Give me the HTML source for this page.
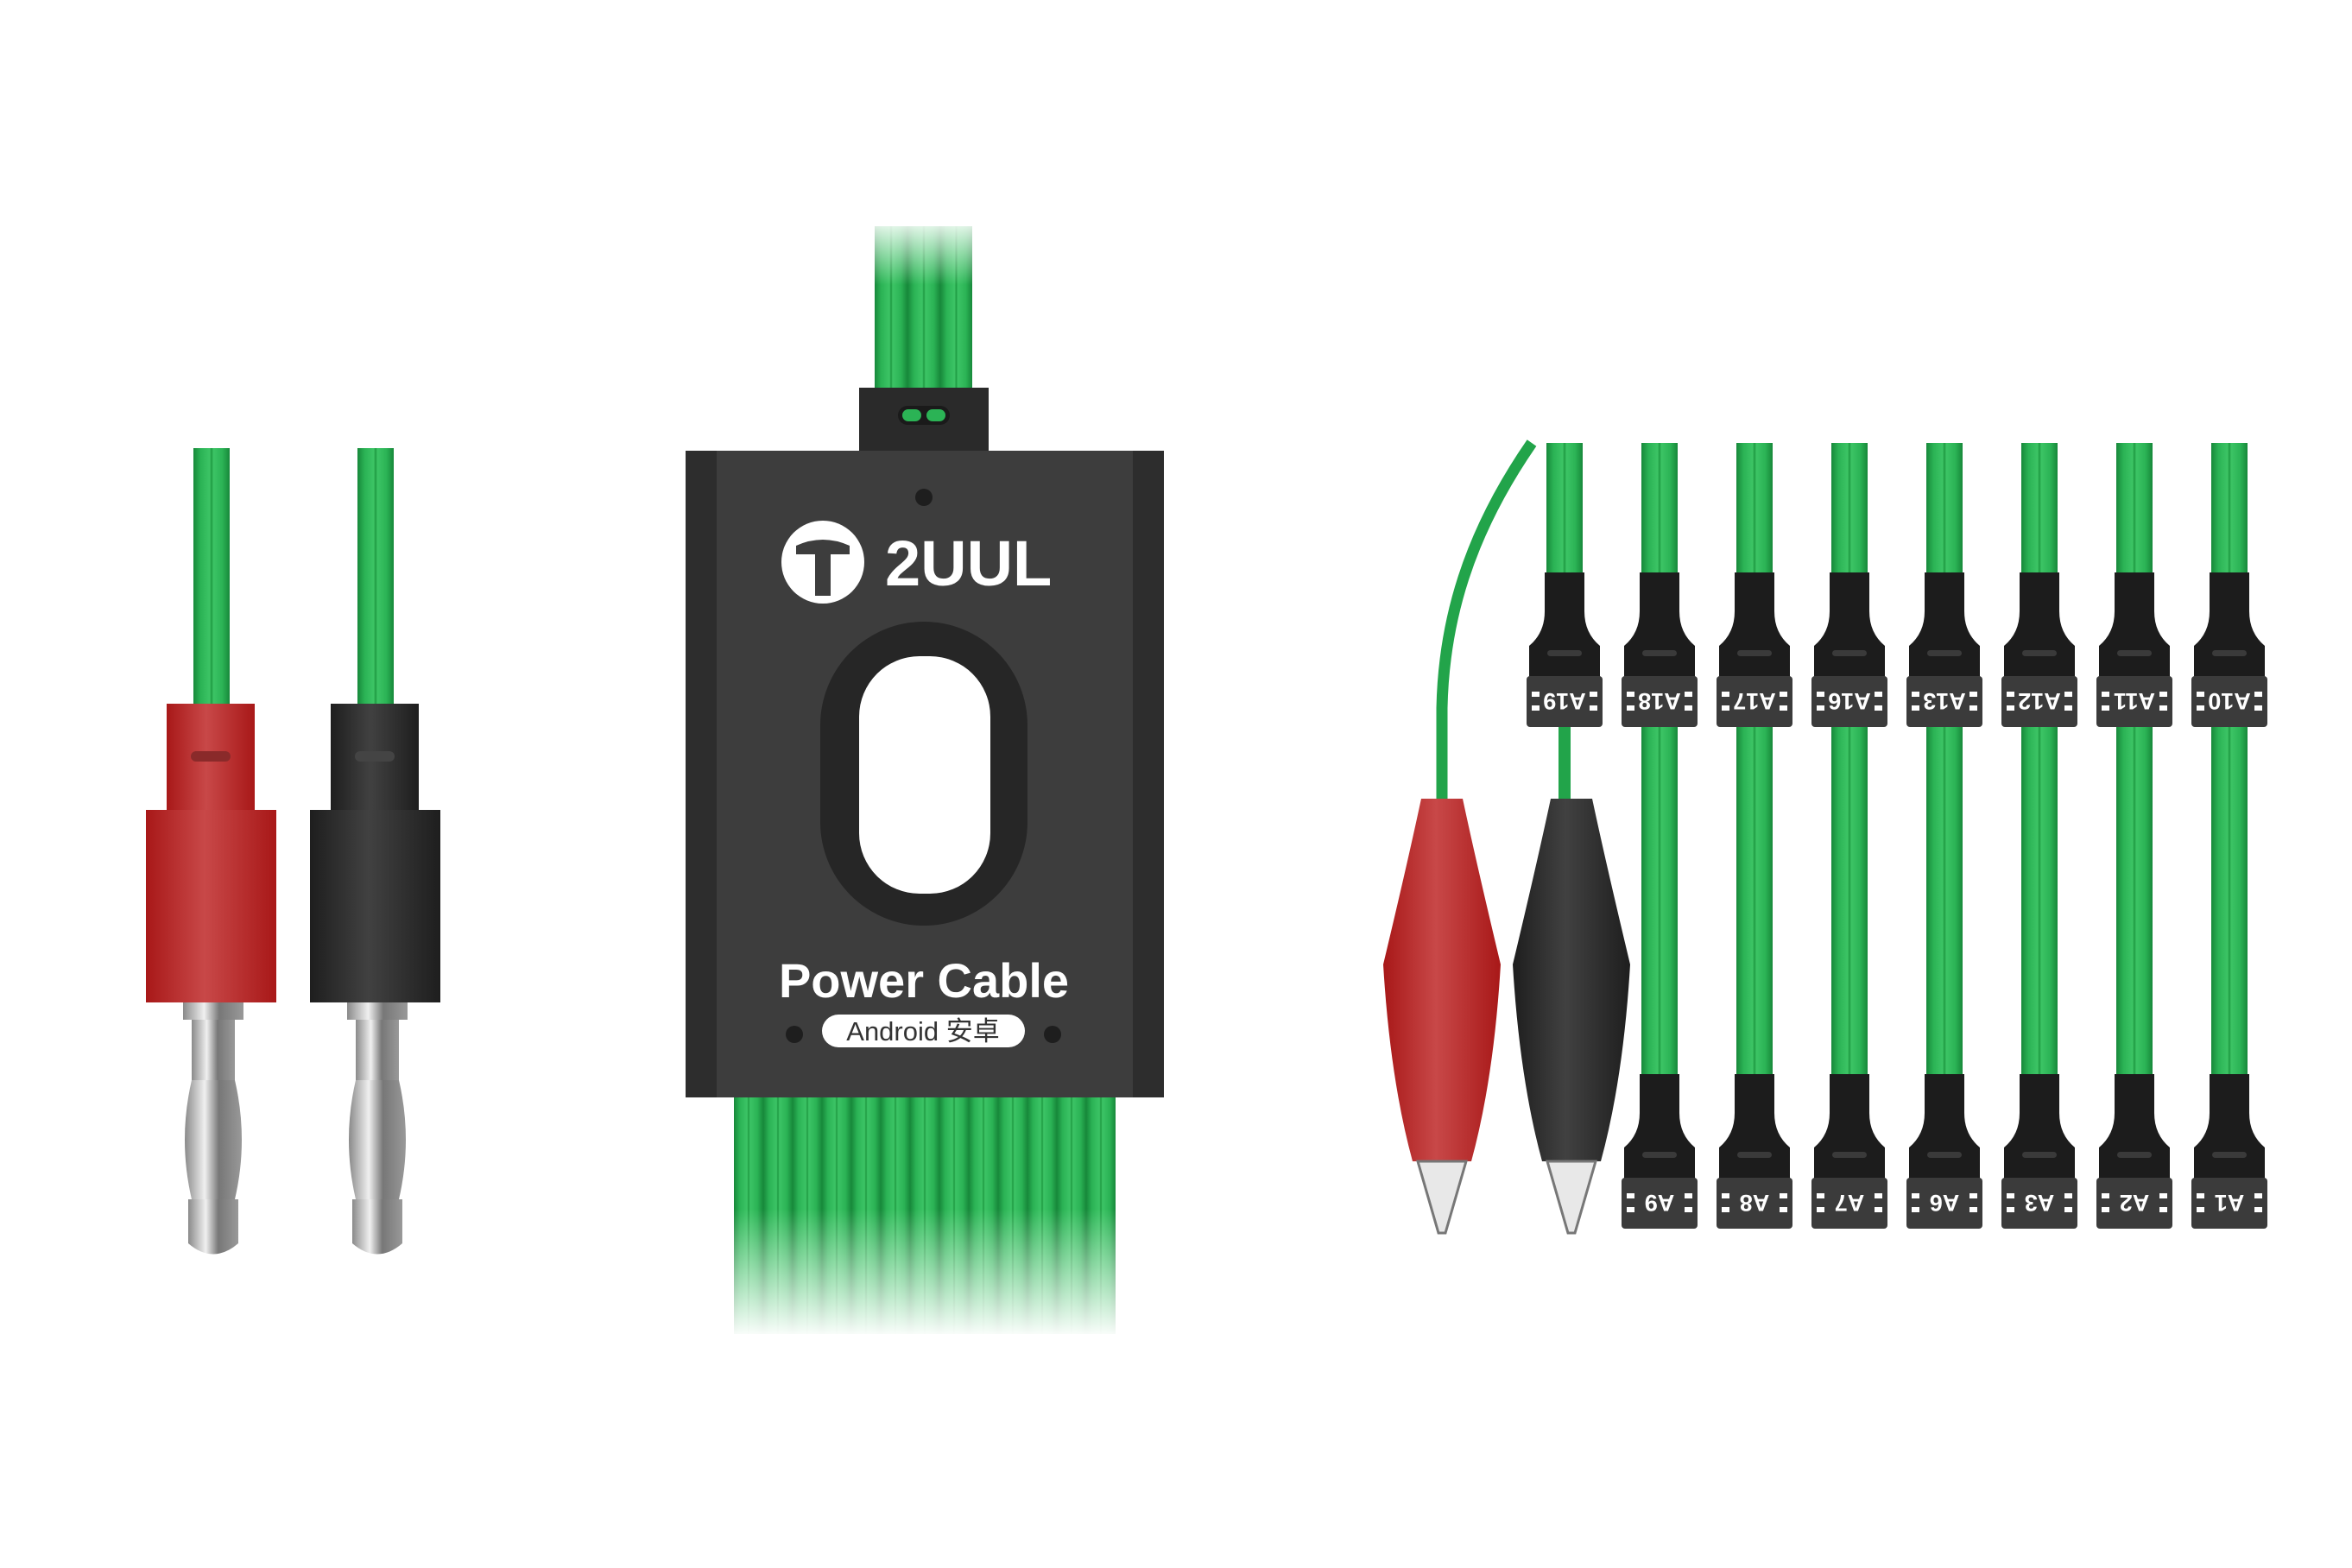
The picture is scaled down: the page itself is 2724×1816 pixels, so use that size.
<!DOCTYPE html>
<html><head><meta charset="utf-8"><style>
html,body{margin:0;padding:0;background:#fff;}
svg{display:block}
</style></head><body>
<svg width="2724" height="1816" viewBox="0 0 2724 1816" xmlns="http://www.w3.org/2000/svg">
<defs>
<linearGradient id="gw" x1="0" x2="1" y1="0" y2="0">
<stop offset="0" stop-color="#17883a"/><stop offset="0.2" stop-color="#2bb355"/><stop offset="0.45" stop-color="#3cc465"/><stop offset="0.5" stop-color="#1e9a42"/><stop offset="0.55" stop-color="#3cc465"/><stop offset="0.8" stop-color="#2bb355"/><stop offset="1" stop-color="#17883a"/>
</linearGradient>
<linearGradient id="gred" x1="0" x2="1"><stop offset="0" stop-color="#a81818"/><stop offset="0.45" stop-color="#c84848"/><stop offset="1" stop-color="#a81818"/></linearGradient>
<linearGradient id="gblk" x1="0" x2="1"><stop offset="0" stop-color="#1e1e1e"/><stop offset="0.45" stop-color="#414141"/><stop offset="1" stop-color="#1e1e1e"/></linearGradient>
<linearGradient id="gmet" x1="0" x2="1"><stop offset="0" stop-color="#8a8a8a"/><stop offset="0.35" stop-color="#f0f0f0"/><stop offset="0.6" stop-color="#777"/><stop offset="1" stop-color="#999"/></linearGradient>
<linearGradient id="fadeTop" x1="0" x2="0" y1="0" y2="1"><stop offset="0" stop-color="#fff" stop-opacity="1"/><stop offset="1" stop-color="#fff" stop-opacity="0"/></linearGradient>
<linearGradient id="fadeBot" x1="0" x2="0" y1="0" y2="1"><stop offset="0" stop-color="#fff" stop-opacity="0"/><stop offset="1" stop-color="#fff" stop-opacity="1"/></linearGradient>
<g id="conn">
<path d="M-23,0 H23 V45 Q23,70 41,85 V122 H-41 V85 Q-23,70 -23,45 Z" fill="#1c1c1c"/>
<rect x="-20" y="90" width="40" height="7" rx="3.5" fill="#3a3a3a"/>
<rect x="-44" y="120" width="88" height="59" rx="4" fill="#3b3b3b"/>
<rect x="-38" y="138" width="9" height="6" fill="#fff"/><rect x="-38" y="154" width="9" height="6" fill="#fff"/>
<rect x="29" y="138" width="9" height="6" fill="#fff"/><rect x="29" y="154" width="9" height="6" fill="#fff"/>
</g>
</defs>

<rect x="1013" y="262" width="113" height="190" fill="url(#gw)"/>
<rect x="1013" y="262" width="38" height="190" fill="url(#gw)"/>
<rect x="1051" y="262" width="38" height="190" fill="url(#gw)"/>
<rect x="1089" y="262" width="37" height="190" fill="url(#gw)"/>
<rect x="1000" y="250" width="140" height="80" fill="url(#fadeTop)"/>
<rect x="995" y="449" width="150" height="78" fill="#2a2a2a"/>
<rect x="1040" y="470" width="60" height="22" rx="11" fill="#1a1a1a"/>
<rect x="1045" y="474" width="22" height="14" rx="7" fill="#2bb355"/><rect x="1073" y="474" width="22" height="14" rx="7" fill="#2bb355"/>

<g>
<rect x="850" y="1265" width="442" height="280" fill="#2bb355"/>
<g fill="url(#gw)">
<rect x="850" y="1265" width="34" height="280"/><rect x="884" y="1265" width="34" height="280"/><rect x="918" y="1265" width="34" height="280"/><rect x="952" y="1265" width="34" height="280"/><rect x="986" y="1265" width="34" height="280"/><rect x="1020" y="1265" width="34" height="280"/><rect x="1054" y="1265" width="34" height="280"/><rect x="1088" y="1265" width="34" height="280"/><rect x="1122" y="1265" width="34" height="280"/><rect x="1156" y="1265" width="34" height="280"/><rect x="1190" y="1265" width="34" height="280"/><rect x="1224" y="1265" width="34" height="280"/><rect x="1258" y="1265" width="34" height="280"/>
</g>
<rect x="840" y="1400" width="462" height="150" fill="url(#fadeBot)"/>
</g>

<rect x="794" y="522" width="554" height="749" fill="#3d3d3d"/>
<rect x="794" y="522" width="36" height="749" fill="#2d2d2d"/>
<rect x="1312" y="522" width="36" height="749" fill="#2d2d2d"/>
<circle cx="1070" cy="576" r="10" fill="#1e1e1e"/>
<circle cx="953" cy="651" r="48" fill="#fff"/>
<path d="M922,632 Q953,618 984,632 L984,642 L962,642 L962,690 L944,690 L944,642 L922,642 Z" fill="#3d3d3d"/>
<text x="1025" y="678" font-family="Liberation Sans, sans-serif" font-weight="bold" font-size="74" fill="#fff">2UUL</text>
<rect x="950" y="720" width="240" height="352" rx="120" fill="#262626"/>
<rect x="995" y="760" width="152" height="275" rx="70" fill="#fff"/>
<text x="1070" y="1155" text-anchor="middle" font-family="Liberation Sans, sans-serif" font-weight="bold" font-size="56" fill="#fff">Power Cable</text>
<rect x="952" y="1175" width="235" height="38" rx="19" fill="#fff"/>
<text x="1069" y="1205" text-anchor="middle" font-family="Liberation Sans, 'Noto Sans CJK SC', sans-serif" font-size="31" fill="#333">Android 安卓</text>
<circle cx="920" cy="1198" r="10" fill="#1e1e1e"/><circle cx="1219" cy="1198" r="10" fill="#1e1e1e"/>

<g>
<rect x="224" y="519" width="42" height="300" fill="url(#gw)"/>
<rect x="193" y="815" width="102" height="125" fill="url(#gred)"/>
<rect x="221" y="870" width="46" height="12" rx="6" fill="#8a2a2a"/>
<rect x="169" y="938" width="151" height="223" fill="url(#gred)"/>
<rect x="212" y="1161" width="70" height="20" fill="url(#gmet)"/>
<rect x="222" y="1181" width="50" height="70" fill="url(#gmet)"/>
<path d="M222,1251 Q206,1320 222,1389 H272 Q288,1320 272,1251 Z" fill="url(#gmet)"/>
<path d="M218,1389 H276 V1440 Q247,1465 218,1440 Z" fill="url(#gmet)"/>
</g>
<g transform="translate(190,0)">
<rect x="224" y="519" width="42" height="300" fill="url(#gw)"/>
<rect x="193" y="815" width="102" height="125" fill="url(#gblk)"/>
<rect x="221" y="870" width="46" height="12" rx="6" fill="#444"/>
<rect x="169" y="938" width="151" height="223" fill="url(#gblk)"/>
<rect x="212" y="1161" width="70" height="20" fill="url(#gmet)"/>
<rect x="222" y="1181" width="50" height="70" fill="url(#gmet)"/>
<path d="M222,1251 Q206,1320 222,1389 H272 Q288,1320 272,1251 Z" fill="url(#gmet)"/>
<path d="M218,1389 H276 V1440 Q247,1465 218,1440 Z" fill="url(#gmet)"/>
</g>

<g fill="url(#gw)">
<rect x="1791" y="513" width="42" height="160"/><rect x="1901" y="513" width="42" height="160"/><rect x="2011" y="513" width="42" height="160"/><rect x="2121" y="513" width="42" height="160"/><rect x="2231" y="513" width="42" height="160"/><rect x="2341" y="513" width="42" height="160"/><rect x="2451" y="513" width="42" height="160"/><rect x="2561" y="513" width="42" height="160"/>
<rect x="1901" y="840" width="42" height="410"/><rect x="2011" y="840" width="42" height="410"/><rect x="2121" y="840" width="42" height="410"/><rect x="2231" y="840" width="42" height="410"/><rect x="2341" y="840" width="42" height="410"/><rect x="2451" y="840" width="42" height="410"/><rect x="2561" y="840" width="42" height="410"/>
</g>
<rect x="1805" y="840" width="14" height="90" fill="#22a44a"/>
<path d="M1774,513 C1700,620 1672,720 1670,820 L1670,930" fill="none" stroke="#22a44a" stroke-width="13"/>

<g font-family="Liberation Sans, sans-serif" font-size="27" font-weight="bold" fill="#fff" text-anchor="middle">
<g transform="translate(1812,663)"><use href="#conn"/><text transform="translate(0,140) rotate(180)">A19</text></g>
<g transform="translate(1922,663)"><use href="#conn"/><text transform="translate(0,140) rotate(180)">A18</text></g>
<g transform="translate(2032,663)"><use href="#conn"/><text transform="translate(0,140) rotate(180)">A17</text></g>
<g transform="translate(2142,663)"><use href="#conn"/><text transform="translate(0,140) rotate(180)">A16</text></g>
<g transform="translate(2252,663)"><use href="#conn"/><text transform="translate(0,140) rotate(180)">A13</text></g>
<g transform="translate(2362,663)"><use href="#conn"/><text transform="translate(0,140) rotate(180)">A12</text></g>
<g transform="translate(2472,663)"><use href="#conn"/><text transform="translate(0,140) rotate(180)">A11</text></g>
<g transform="translate(2582,663)"><use href="#conn"/><text transform="translate(0,140) rotate(180)">A10</text></g>
<g transform="translate(1922,1244)"><use href="#conn"/><text transform="translate(0,140) rotate(180)">A9</text></g>
<g transform="translate(2032,1244)"><use href="#conn"/><text transform="translate(0,140) rotate(180)">A8</text></g>
<g transform="translate(2142,1244)"><use href="#conn"/><text transform="translate(0,140) rotate(180)">A7</text></g>
<g transform="translate(2252,1244)"><use href="#conn"/><text transform="translate(0,140) rotate(180)">A6</text></g>
<g transform="translate(2362,1244)"><use href="#conn"/><text transform="translate(0,140) rotate(180)">A3</text></g>
<g transform="translate(2472,1244)"><use href="#conn"/><text transform="translate(0,140) rotate(180)">A2</text></g>
<g transform="translate(2582,1244)"><use href="#conn"/><text transform="translate(0,140) rotate(180)">A1</text></g>
</g>

<g transform="translate(1670,0)">
<path d="M-24,925 H24 Q40,1000 68,1117 Q60,1250 34,1345 H-34 Q-60,1250 -68,1117 Q-40,1000 -24,925 Z" fill="url(#gred)"/>
<path d="M-28,1345 H28 L4,1428 H-4 Z" fill="#e8e8e8" stroke="#777" stroke-width="3"/>
</g>
<g transform="translate(1820,0)">
<path d="M-24,925 H24 Q40,1000 68,1117 Q60,1250 34,1345 H-34 Q-60,1250 -68,1117 Q-40,1000 -24,925 Z" fill="url(#gblk)"/>
<path d="M-28,1345 H28 L4,1428 H-4 Z" fill="#e8e8e8" stroke="#777" stroke-width="3"/>
</g>
</svg>
</body></html>
